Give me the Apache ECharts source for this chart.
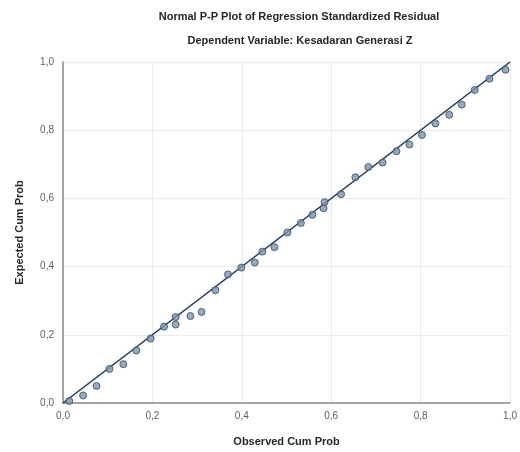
<!DOCTYPE html>
<html>
<head>
<meta charset="utf-8">
<script src="https://cdn.jsdelivr.net/npm/echarts@6/dist/echarts.min.js"></script>
<style>
html,body{margin:0;padding:0;background:#fff;}
#c{width:520px;height:452px;}
</style>
</head>
<body>
<div id="c"></div>
<script>
var titleText = "Normal P-P Plot of Regression Standardized Residual";
var subtitleText = "Dependent Variable: Kesadaran Generasi Z";
var xAxisName = "Observed Cum Prob";
var yAxisName = "Expected Cum Prob";
var tickValues = [0, 0.2, 0.4, 0.6, 0.8, 1.0];
var tickLabels = ["0,0", "0,2", "0,4", "0,6", "0,8", "1,0"];

var observed = [0.014,0.045,0.075,0.104,0.135,0.164,0.196,0.226,0.252,0.252,0.285,0.310,0.341,0.369,0.399,0.429,0.446,0.473,0.502,0.532,0.558,0.583,0.585,0.622,0.654,0.683,0.715,0.746,0.775,0.803,0.833,0.864,0.892,0.921,0.954,0.990];
var expected = [0.006,0.022,0.050,0.100,0.114,0.154,0.189,0.224,0.252,0.230,0.255,0.267,0.331,0.377,0.397,0.412,0.444,0.457,0.500,0.528,0.552,0.571,0.589,0.612,0.662,0.692,0.705,0.738,0.758,0.786,0.820,0.845,0.875,0.918,0.951,0.977];
var diagonalX = [0, 1];
var diagonalY = [0, 1];

var pts = observed.map(function(v, i){ return [v, expected[i]]; });
var diag = diagonalX.map(function(v, i){ return [v, diagonalY[i]]; });

function fmt(v){
  for (var i = 0; i < tickValues.length; i++) {
    if (Math.abs(v - tickValues[i]) < 1e-6) return tickLabels[i];
  }
  return '';
}

var chart = echarts.init(document.getElementById('c'));
chart.setOption({
  backgroundColor: '#ffffff',
  animation: false,
  graphic: [
    {type:'text', x:299, y:17, style:{text:titleText, textAlign:'center', textVerticalAlign:'middle', font:'bold 11px "Liberation Sans", Arial, sans-serif', fill:'#262626'}},
    {type:'text', x:300, y:41, style:{text:subtitleText, textAlign:'center', textVerticalAlign:'middle', font:'bold 11px "Liberation Sans", Arial, sans-serif', fill:'#262626'}}
  ],
  grid: {left:63, right:5, top:62, bottom:47},
  xAxis: {
    type:'value', min:0, max:1, interval:0.2,
    name:xAxisName, nameLocation:'middle', nameGap:33,
    nameTextStyle:{fontFamily:'"Liberation Sans", Arial, sans-serif', fontSize:11, fontWeight:'bold', color:'#262626'},
    axisLine:{show:true, onZero:false, lineStyle:{color:'#8a8a8a', width:1.5}},
    axisTick:{show:false},
    axisLabel:{formatter:fmt, color:'#5e5e5e', fontSize:10, fontFamily:'"Liberation Sans", Arial, sans-serif', margin:8},
    splitLine:{show:true, lineStyle:{color:'#ebebeb', width:1}}
  },
  yAxis: {
    type:'value', min:0, max:1, interval:0.2,
    name:yAxisName, nameLocation:'middle', nameGap:38,
    nameTextStyle:{fontFamily:'"Liberation Sans", Arial, sans-serif', fontSize:11, fontWeight:'bold', color:'#262626'},
    axisLine:{show:true, onZero:false, lineStyle:{color:'#8a8a8a', width:1.5}},
    axisTick:{show:false},
    axisLabel:{formatter:fmt, color:'#5e5e5e', fontSize:10, fontFamily:'"Liberation Sans", Arial, sans-serif', margin:9},
    splitLine:{show:true, lineStyle:{color:'#ebebeb', width:1}}
  },
  series: [
    {
      type:'line', data:diag, symbol:'none', silent:true, z:2,
      lineStyle:{color:'#27364a', width:1.5, shadowColor:'rgba(120,170,230,0.35)', shadowBlur:4}
    },
    {
      type:'scatter', data:pts, symbol:'circle', symbolSize:7, z:3,
      itemStyle:{color:'#7d93ab', borderColor:'#3b4c60', borderWidth:1}
    }
  ]
});
</script>
</body>
</html>
